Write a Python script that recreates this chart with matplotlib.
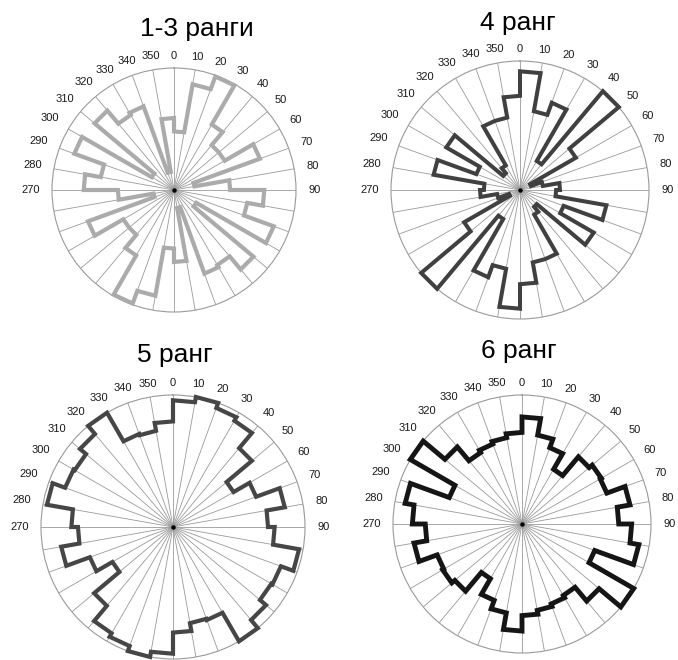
import numpy as np
import matplotlib
matplotlib.use("Agg")
import matplotlib.pyplot as plt

plt.rcParams['font.family'] = ['Liberation Sans', 'DejaVu Sans']

# ---- data -------------------------------------------------------------
# sector start angles (deg, clockwise from north), 10-degree sectors
sector_starts = list(range(0, 360, 10))
# labelled directions
label_angles = [0, 10, 20, 30, 40, 50, 60, 70, 80, 90,
                270, 280, 290, 300, 310, 320, 330, 340, 350]
titles = ["1-3 ранги", "4 ранг", "5 ранг", "6 ранг"]

# relative frequency per sector (fraction of outer circle)
rank_1_3 = [0.48, 0.88, 0.99, 0.62, 0.48, 0.48, 0.75, 0.17, 0.46,
            0.74, 0.61, 0.87, 0.21, 0.85, 0.71, 0.73, 0.15, 0.59,
            0.48, 0.88, 0.99, 0.62, 0.48, 0.48, 0.75, 0.17, 0.46,
            0.74, 0.61, 0.87, 0.21, 0.85, 0.71, 0.73, 0.15, 0.59]
rank_4 = [0.92, 0.62, 0.72, 0.26, 1.00, 0.50, 0.09, 0.18, 0.31,
          0.28, 0.68, 0.36, 0.66, 0.17, 0.22, 0.57, 0.57, 0.73,
          0.92, 0.62, 0.72, 0.26, 1.00, 0.50, 0.09, 0.18, 0.31,
          0.28, 0.68, 0.36, 0.66, 0.17, 0.22, 0.57, 0.57, 0.73]
rank_5 = [0.96, 1.00, 0.96, 0.93, 0.78, 0.53, 0.67, 0.86, 0.72,
          0.77, 0.97, 0.87, 0.86, 0.92, 1.00, 0.75, 0.74, 0.80,
          0.96, 1.00, 0.96, 0.93, 0.78, 0.53, 0.67, 0.86, 0.72,
          0.77, 0.97, 0.87, 0.86, 0.92, 1.00, 0.75, 0.74, 0.80]
rank_6 = [0.83, 0.70, 0.63, 0.49, 0.68, 0.71, 0.70, 0.85, 0.75,
          0.85, 0.92, 0.60, 1.00, 0.78, 0.64, 0.66, 0.68, 0.71,
          0.83, 0.70, 0.63, 0.49, 0.68, 0.71, 0.70, 0.85, 0.75,
          0.85, 0.92, 0.60, 1.00, 0.78, 0.64, 0.66, 0.68, 0.71]

series = [rank_1_3, rank_4, rank_5, rank_6]

# ---- layout / style ---------------------------------------------------
W, H = 678, 660
# circle centre (px from top-left) and radius (px)
panels = [(174, 190, 122), (520, 190, 129), (173, 527, 132), (522, 524, 129)]
title_pos = [(197, 36), (518, 30), (175, 362), (519, 358)]
colors = ['#ababab', '#404040', '#464646', '#151515']
widths = [3.0, 2.9, 3.0, 3.5]

fig = plt.figure(figsize=(W / 100, H / 100), dpi=100)
fig.patch.set_facecolor('white')

for k, (vals, (cx, cy, R)) in enumerate(zip(series, panels)):
    rect = [(cx - R) / W, (H - cy - R) / H, 2 * R / W, 2 * R / H]
    ax = fig.add_axes(rect, projection='polar')
    ax.set_theta_zero_location('N')
    ax.set_theta_direction(-1)
    ax.set_ylim(0, 1)
    ax.set_yticks([])
    ax.set_xticks(np.deg2rad(sector_starts))
    ax.set_xticklabels([])
    ax.tick_params(axis='x', length=0)
    ax.grid(axis='x', color='#9a9a9a', lw=0.6)
    ax.set_axisbelow(True)
    ax.spines['polar'].set_color('#9a9a9a')
    ax.spines['polar'].set_linewidth(0.8)
    ax.set_facecolor('white')
    # dark hub where the spokes converge
    ax.plot([0], [0], marker='o', ms=3.2, color='black', mec='none', zorder=2)

    # step outline: each sector is a chord at its value between two spokes
    starts = np.deg2rad(np.array(sector_starts, dtype=float))
    ends = starts + np.deg2rad(10)
    th = np.column_stack([starts, ends]).ravel()
    rr = np.repeat(np.asarray(vals, dtype=float), 2)
    ax.fill(th, rr, fill=False, edgecolor=colors[k], lw=widths[k],
            joinstyle='miter', clip_on=False, zorder=3)

    # direction labels
    for a in label_angles:
        t = np.deg2rad(a)
        txt = str(a)
        w = 6.2 * len(txt)
        h = 8.0
        s = abs(np.sin(t))
        gap = 8 + 4 * s * s
        off = gap + 0.5 * w * s + 0.5 * h * abs(np.cos(t))
        ax.text(t, 1 + off / R, txt, ha='center', va='center',
                fontsize=8, color='#1a1a1a', clip_on=False)

    tx, ty = title_pos[k]
    fig.text(tx / W, 1 - ty / H, titles[k], ha='center', va='baseline',
             fontsize=19, color='black')

fig.savefig('out.png', dpi=100, facecolor='white')
